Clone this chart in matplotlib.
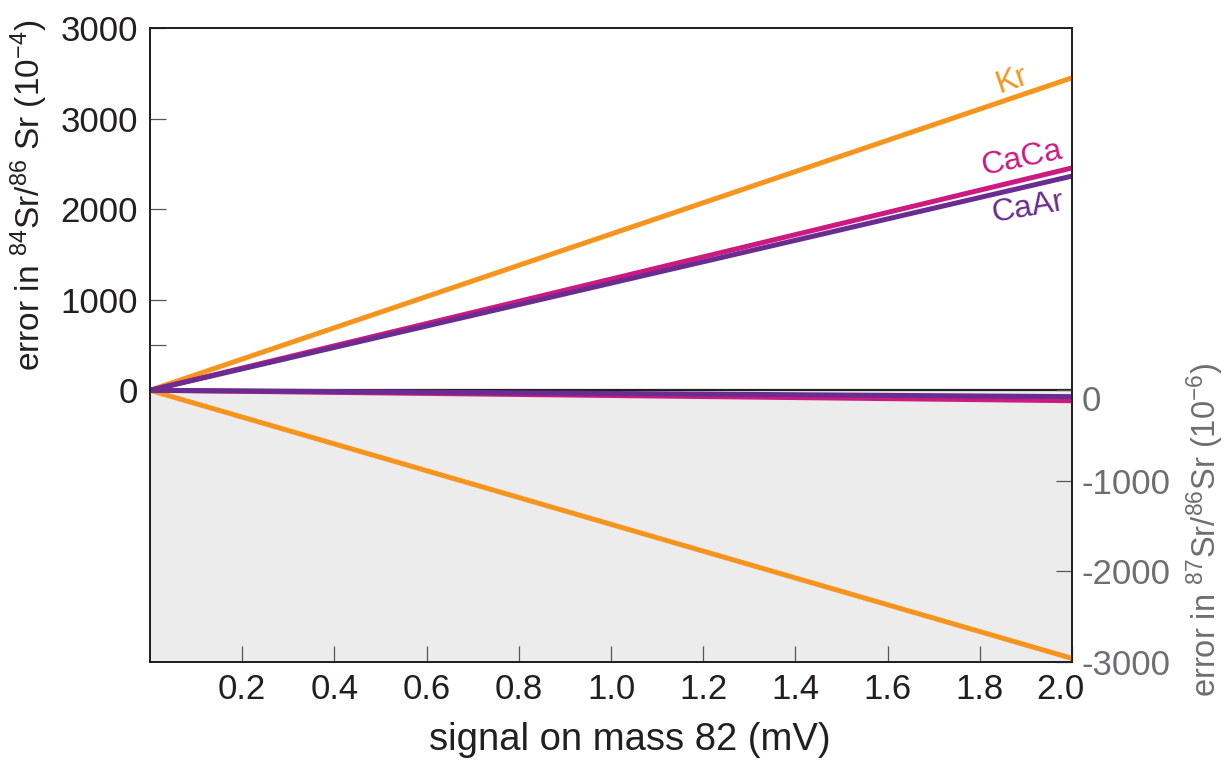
import matplotlib
matplotlib.use("Agg")
import matplotlib.pyplot as plt
import matplotlib.transforms as mtransforms

# signal on mass 82 (mV): every line runs from the origin to the full signal
signal = [0.0, 2.0]

# error in 84Sr/86Sr (1e-4) at each signal
kr_84 = [0, 3450]
caca_84 = [0, 2455]
caar_84 = [0, 2365]

# error in 87Sr/86Sr (1e-6) at each signal
kr_87 = [0, -2960]
caca_87 = [0, -115]
caar_87 = [0, -70]

x_ticks = [0.2, 0.4, 0.6, 0.8, 1.0, 1.2, 1.4, 1.6, 1.8, 2.0]
x_labels = ["0.2", "0.4", "0.6", "0.8", "1.0", "1.2", "1.4", "1.6", "1.8", "2.0"]
left_ticks = [0, 500, 1000, 2000, 3000, 4000]
left_labels = ["0", "", "1000", "2000", "3000", "3000"]
right_ticks = [0, -1000, -2000, -3000]
right_labels = ["0", "-1000", "-2000", "-3000"]

ORANGE = "#f7941d"
MAGENTA = "#cc1a80"
PURPLE = "#6b2c91"
DARK = "#231f20"
GREY_TXT = "#6d6e71"

plt.rcParams["font.family"] = ["Liberation Sans", "DejaVu Sans"]
plt.rcParams["mathtext.fontset"] = "custom"
plt.rcParams["mathtext.rm"] = "Liberation Sans"
plt.rcParams["mathtext.it"] = "Liberation Sans"

fig = plt.figure(figsize=(12.31, 7.76), dpi=100)
ax = fig.add_axes([150 / 1231, 1 - 662 / 776, 922 / 1231, 634 / 776])
ax.set_xlim(0, 2.0)
ax.set_ylim(-3000, 4000)

# shaded lower half belongs to the 87Sr/86Sr scale
ax.axhspan(-3000, 0, color="#ebeceb", zorder=0, lw=0)
ax.axhline(0, color=DARK, lw=1.6, zorder=2)

lw = 3.6
ax.plot(signal, kr_84, color=ORANGE, lw=lw, solid_capstyle="butt", zorder=3)
ax.plot(signal, caca_84, color=MAGENTA, lw=lw, solid_capstyle="butt", zorder=3)
ax.plot(signal, caar_84, color=PURPLE, lw=lw, solid_capstyle="butt", zorder=4)
ax.plot(signal, kr_87, color=ORANGE, lw=lw, solid_capstyle="butt", zorder=3)
ax.plot(signal, caca_87, color=MAGENTA, lw=lw, solid_capstyle="butt", zorder=3)
ax.plot(signal, caar_87, color=PURPLE, lw=lw, solid_capstyle="butt", zorder=4)

# line names along the upper lines
ax.text(1.870, 3420, "Kr", color=ORANGE, fontsize=23, rotation=19,
        ha="center", va="center")
ax.text(1.892, 2560, "CaCa", color=MAGENTA, fontsize=23, rotation=12,
        ha="center", va="center")
ax.text(1.905, 2020, "CaAr", color=PURPLE, fontsize=23, rotation=10,
        ha="center", va="center")

for side in ["left", "right", "top", "bottom"]:
    ax.spines[side].set_color(DARK)
    ax.spines[side].set_linewidth(1.3)

ax.set_xticks(x_ticks)
ax.set_xticklabels(x_labels)
ax.set_yticks(left_ticks)
ax.set_yticklabels(left_labels)
ax.tick_params(axis="x", direction="in", length=11.5, width=0.9, color="#555555",
               labelsize=25, pad=8, labelcolor=DARK)
ax.tick_params(axis="y", direction="in", length=11.5, width=0.9, color="#555555",
               labelsize=25, pad=8.5, labelcolor=DARK)

# nudge the last x label inside the frame
last = ax.get_xticklabels()[-1]
last.set_transform(last.get_transform() +
                   mtransforms.ScaledTranslation(-12 / 100, 0, fig.dpi_scale_trans))

ax2 = ax.twinx()
ax2.set_ylim(ax.get_ylim())
ax2.set_yticks(right_ticks)
ax2.set_yticklabels(right_labels)
ax2.tick_params(axis="y", direction="in", length=11.5, width=0.9, color="#555555",
                labelsize=25, pad=7, labelcolor=GREY_TXT)
for side in ["left", "right", "top", "bottom"]:
    ax2.spines[side].set_color(DARK)
    ax2.spines[side].set_linewidth(1.3)
zero = ax2.get_yticklabels()[0]
zero.set_transform(zero.get_transform() +
                   mtransforms.ScaledTranslation(0, -8 / 100, fig.dpi_scale_trans))

fig.text(630 / 1231, 1 - 740 / 776, "signal on mass 82 (mV)", fontsize=27.5,
         color=DARK, ha="center", va="center")
fig.text(29 / 1231, 1 - 195 / 776,
         r"error in $^{\mathregular{84}}$Sr/$^{\mathregular{86}}$ Sr (10$^{\mathregular{-4}}$)",
         fontsize=24, color=DARK, rotation=90, ha="center", va="center")
fig.text(1205 / 1231, 1 - 363 / 776,
         r"error in $^{\mathregular{87}}$Sr/$^{\mathregular{86}}$Sr (10$^{\mathregular{-6}}$)",
         fontsize=23.5, color=GREY_TXT, rotation=90, ha="center", va="top")

fig.savefig("out.png", dpi=100)
